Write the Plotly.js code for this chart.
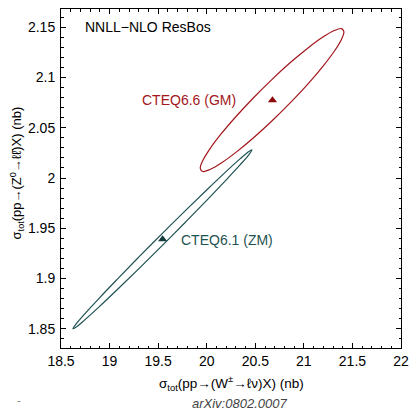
<!DOCTYPE html>
<html><head><meta charset="utf-8">
<script src="https://cdn.plot.ly/plotly-3.0.1.min.js"></script>
<style>html,body{margin:0;padding:0;background:#fff;}#chart{width:410px;height:411px;}</style>
</head><body><div id="chart"></div>
<script>
// CTEQ6.6 (GM) 1-sigma contour, boundary points
var gmX = [21.412,21.387,21.313,21.196,21.043,20.864,20.673,20.482,20.304,20.150,20.033,19.959,
           19.934,19.959,20.033,20.150,20.304,20.482,20.673,20.864,21.043,21.196,21.313,21.387,21.412];
var gmY = [2.1455,2.1378,2.1260,2.1110,2.0936,2.0752,2.0569,2.0400,2.0257,2.0149,2.0084,2.0065,
           2.0096,2.0172,2.0290,2.0440,2.0614,2.0798,2.0981,2.1150,2.1293,2.1401,2.1466,2.1485,2.1455];
// CTEQ6.1 (ZM) contour
var zmX = [20.466,20.435,20.343,20.196,20.005,19.783,19.544,19.305,19.083,18.892,18.745,18.653,
           18.622,18.653,18.745,18.892,19.083,19.305,19.544,19.783,20.005,20.196,20.343,20.435,20.466];
var zmY = [2.0279,2.0233,2.0130,1.9977,1.9783,1.9563,1.9330,1.9102,1.8894,1.8719,1.8590,1.8516,
           1.8501,1.8547,1.8650,1.8804,1.8997,1.9218,1.9450,1.9678,1.9886,2.0061,2.0190,2.0264,2.0279];
// central values
var centerNames = ["CTEQ6.6 (GM)", "CTEQ6.1 (ZM)"];
var centerX = [20.677, 19.546];
var centerY = [2.0772, 1.9392];

var red = "#a3161b", teal = "#1f5252";
var font = "Liberation Sans, Arial, sans-serif";

var traces = [
  {x: gmX, y: gmY, mode: "lines", line: {color: red, width: 1.2, shape: "spline", smoothing: 1}, hoverinfo: "skip"},
  {x: zmX, y: zmY, mode: "lines", line: {color: teal, width: 1.2, shape: "spline", smoothing: 1}, hoverinfo: "skip"},
  {x: [centerX[0]], y: [centerY[0]], mode: "markers", marker: {symbol: "triangle-up", size: 8, color: "#8e0a0a"}},
  {x: [centerX[1]], y: [centerY[1]], mode: "markers", marker: {symbol: "triangle-up", size: 8, color: "#143c3c"}}
];

var axisCommon = {
  showgrid: false, zeroline: false, showline: true, linecolor: "#000", linewidth: 1,
  mirror: "allticks", ticks: "inside", ticklen: 5, tickcolor: "#000", tickwidth: 1,
  tickfont: {family: font, size: 14, color: "#000"},
  minor: {ticks: "inside", ticklen: 2.5, tickcolor: "#000", tickwidth: 1}
};

var layout = {
  width: 410, height: 411,
  margin: {l: 61, r: 9, t: 9, b: 63},
  paper_bgcolor: "#fff", plot_bgcolor: "#fff",
  showlegend: false,
  xaxis: Object.assign({}, axisCommon, {range: [18.5, 22], dtick: 0.5, tick0: 18.5,
    minor: Object.assign({}, axisCommon.minor, {dtick: 0.1})}),
  yaxis: Object.assign({}, axisCommon, {range: [1.831, 2.168], dtick: 0.05, tick0: 1.85,
    ticklabelstandoff: 2,
    minor: Object.assign({}, axisCommon.minor, {dtick: 0.01})}),
  annotations: [
    {xref: "paper", yref: "paper", x: 0.064, y: 0.947, xanchor: "left", yanchor: "middle",
     text: "NNLL\u2212NLO ResBos", showarrow: false, font: {family: font, size: 14, color: "#000"}},
    {x: 20.318, y: 2.0775, xanchor: "right", yanchor: "middle", text: centerNames[0], showarrow: false,
     font: {family: font, size: 14, color: red}},
    {x: 19.71, y: 1.9385, xanchor: "left", yanchor: "middle", text: centerNames[1], showarrow: false,
     font: {family: font, size: 14, color: teal}},
    {xref: "paper", yref: "paper", x: 0.5, y: 0, yshift: -35, xanchor: "center", yanchor: "middle",
     text: "\u03c3<sub>tot</sub>(pp\u2192(W<sup>\u00b1</sup>\u2192\u2113\u03bd)X) (nb)", showarrow: false,
     font: {family: font, size: 13.5, color: "#000"}},
    {xref: "paper", yref: "paper", x: 0, y: 0.515, xshift: -44, xanchor: "center", yanchor: "middle", textangle: -90,
     text: "\u03c3<sub>tot</sub>(pp\u2192(Z<sup>0</sup>\u2192\u2113\u2113\u0304)X) (nb)", showarrow: false,
     font: {family: font, size: 13, color: "#000"}},
    {xref: "paper", yref: "paper", x: 0.524, y: 0, yshift: -55, xanchor: "center", yanchor: "middle",
     text: "<i>arXiv:0802.0007</i>", showarrow: false, font: {family: font, size: 13, color: "#444"}},
    {xref: "paper", yref: "paper", x: -0.125, y: 0, yshift: -52, xanchor: "center", yanchor: "middle",
     text: "-", showarrow: false, font: {family: font, size: 11, color: "#777"}}
  ]
};

Plotly.newPlot("chart", traces, layout, {staticPlot: true, displayModeBar: false});
</script></body></html>
